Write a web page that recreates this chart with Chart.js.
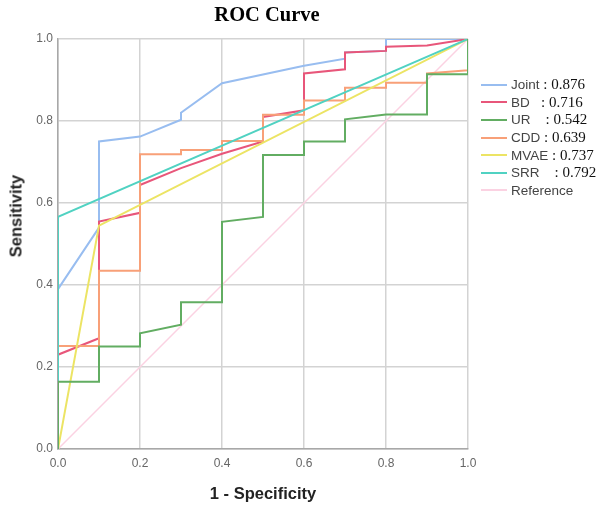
<!DOCTYPE html>
<html><head><meta charset="utf-8">
<script src="https://cdn.jsdelivr.net/npm/chart.js@4"></script>
<style>
html,body{margin:0;padding:0;background:#fff;}
#wrap{position:relative;width:600px;height:506px;overflow:hidden;background:#fff;}
#c{position:absolute;left:0;top:0;}
#title{position:absolute;left:117px;width:300px;top:3px;text-align:center;font:bold 20.5px "Liberation Serif","Times New Roman",serif;color:#000;}
#xt{position:absolute;left:113px;width:300px;top:484px;text-align:center;font:bold 16.5px "Liberation Sans",Arial,sans-serif;color:#222;}
#yt{position:absolute;left:16px;top:216px;transform:translate(-50%,-50%) rotate(-90deg);font:bold 16.5px "Liberation Sans",Arial,sans-serif;color:#222;white-space:nowrap;}
#legend{position:absolute;left:481px;top:76px;}
.row{height:17.6px;display:flex;align-items:center;white-space:pre;}
.sw{width:26px;height:2px;margin-right:4px;flex:none;}
.lab{font:13.5px "Liberation Sans",Arial,sans-serif;color:#444;}
.val{font:15px "Liberation Serif","Times New Roman",serif;color:#111;}
</style>
</head><body>
<div id="wrap">
<canvas id="c" width="600" height="506"></canvas>
<div id="title">ROC Curve</div>
<div id="xt">1 - Specificity</div>
<div id="yt">Sensitivity</div>
<div id="legend"></div>
</div>
<script>
// ---- data ----
const seriesNames = ["Joint", "BD", "UR", "CDD", "MVAE", "SRR", "Reference"];
const nameSuffix = [" ", "   ", "    ", " ", " ", "    ", ""];
const aucTexts = [": 0.876", ": 0.716", ": 0.542", ": 0.639", ": 0.737", ": 0.792", ""];
const seriesColors = ["#98bdf0", "#e8567a", "#62ad62", "#f8a078", "#ece464", "#50d2c2", "#fbd2e2"];

const jointX = [0, 0, 0.1, 0.1, 0.2, 0.3, 0.3, 0.4, 0.6, 0.7, 0.7, 0.8, 0.8, 1.0];
const jointY = [0, 0.39, 0.54, 0.75, 0.762, 0.803, 0.82, 0.892, 0.935, 0.952, 0.967, 0.971, 1.0, 1.0];

const bdX = [0, 0, 0.1, 0.1, 0.2, 0.2, 0.3, 0.4, 0.5, 0.5, 0.6, 0.6, 0.7, 0.7, 0.8, 0.8, 0.9, 1.0];
const bdY = [0, 0.23, 0.27, 0.555, 0.576, 0.644, 0.685, 0.72, 0.75, 0.81, 0.826, 0.916, 0.926, 0.967, 0.971, 0.981, 0.984, 1.0];

const urX = [0, 0, 0.1, 0.1, 0.2, 0.2, 0.3, 0.3, 0.4, 0.4, 0.5, 0.5, 0.6, 0.6, 0.7, 0.7, 0.8, 0.9, 0.9, 1.0, 1.0];
const urY = [0, 0.164, 0.164, 0.25, 0.25, 0.282, 0.303, 0.358, 0.358, 0.554, 0.566, 0.717, 0.717, 0.75, 0.75, 0.804, 0.816, 0.816, 0.914, 0.914, 1.0];

const cddX = [0, 0, 0.1, 0.1, 0.2, 0.2, 0.3, 0.3, 0.4, 0.4, 0.5, 0.5, 0.6, 0.6, 0.7, 0.7, 0.8, 0.8, 0.9, 0.9, 1.0, 1.0];
const cddY = [0, 0.251, 0.251, 0.435, 0.435, 0.719, 0.719, 0.729, 0.729, 0.751, 0.751, 0.815, 0.815, 0.85, 0.85, 0.881, 0.881, 0.893, 0.893, 0.916, 0.924, 1.0];

const mvaeX = [0, 0.1, 1.0];
const mvaeY = [0, 0.545, 1.0];

const srrX = [0, 0, 1.0];
const srrY = [0, 0.566, 1.0];

const refX = [0, 1.0];
const refY = [0, 1.0];

const xTicks = [0, 0.2, 0.4, 0.6, 0.8, 1.0];
const yTicks = [0, 0.2, 0.4, 0.6, 0.8, 1.0];

// ---- build ----
const allX = [jointX, bdX, urX, cddX, mvaeX, srrX, refX];
const allY = [jointY, bdY, urY, cddY, mvaeY, srrY, refY];
const drawOrder = [5, 4, 0, 3, 2, 1, 6]; // higher = further back

const datasets = seriesNames.map((name, i) => ({
  label: name,
  data: allX[i].map((x, k) => ({x: x, y: allY[i][k]})),
  borderColor: seriesColors[i],
  backgroundColor: seriesColors[i],
  borderWidth: i === 6 ? 1.5 : 2,
  showLine: true,
  pointRadius: 0,
  pointHoverRadius: 0,
  tension: 0,
  fill: false,
  order: drawOrder[i]
}));

const axisCommon = (ticks) => ({
  type: 'linear',
  min: 0, max: 1,
  afterBuildTicks: (s) => { s.ticks = ticks.map(v => ({value: v})); },
  ticks: {
    color: '#666',
    font: {family: '"Liberation Sans", Arial, sans-serif', size: 12},
    callback: (v) => Number(v).toFixed(1)
  },
  grid: {color: '#d3d3d3', lineWidth: 1.5, drawTicks: false},
  border: {color: '#a8a8a8', width: 1.5}
});

const xScale = axisCommon(xTicks);
xScale.ticks.padding = 7;
xScale.afterFit = (s) => { s.height = 57; };
const yScale = axisCommon(yTicks);
yScale.ticks.padding = 5;
yScale.afterFit = (s) => { s.width = 58; };

new Chart(document.getElementById('c'), {
  type: 'scatter',
  data: {datasets},
  options: {
    responsive: false,
    animation: false,
    devicePixelRatio: 1,
    layout: {padding: {top: 39, right: 132, left: 0, bottom: 0}},
    plugins: {legend: {display: false}, title: {display: false}, tooltip: {enabled: false}},
    scales: {x: xScale, y: yScale}
  }
});

// legend (HTML, mixed fonts as in the reference)
const lg = document.getElementById('legend');
seriesNames.forEach((name, i) => {
  const row = document.createElement('div');
  row.className = 'row';
  const sw = document.createElement('span');
  sw.className = 'sw';
  sw.style.background = seriesColors[i];
  const lab = document.createElement('span');
  lab.className = 'lab';
  lab.textContent = name + nameSuffix[i];
  const val = document.createElement('span');
  val.className = 'val';
  val.textContent = aucTexts[i];
  row.appendChild(sw); row.appendChild(lab); row.appendChild(val);
  lg.appendChild(row);
});
</script>
</body></html>
